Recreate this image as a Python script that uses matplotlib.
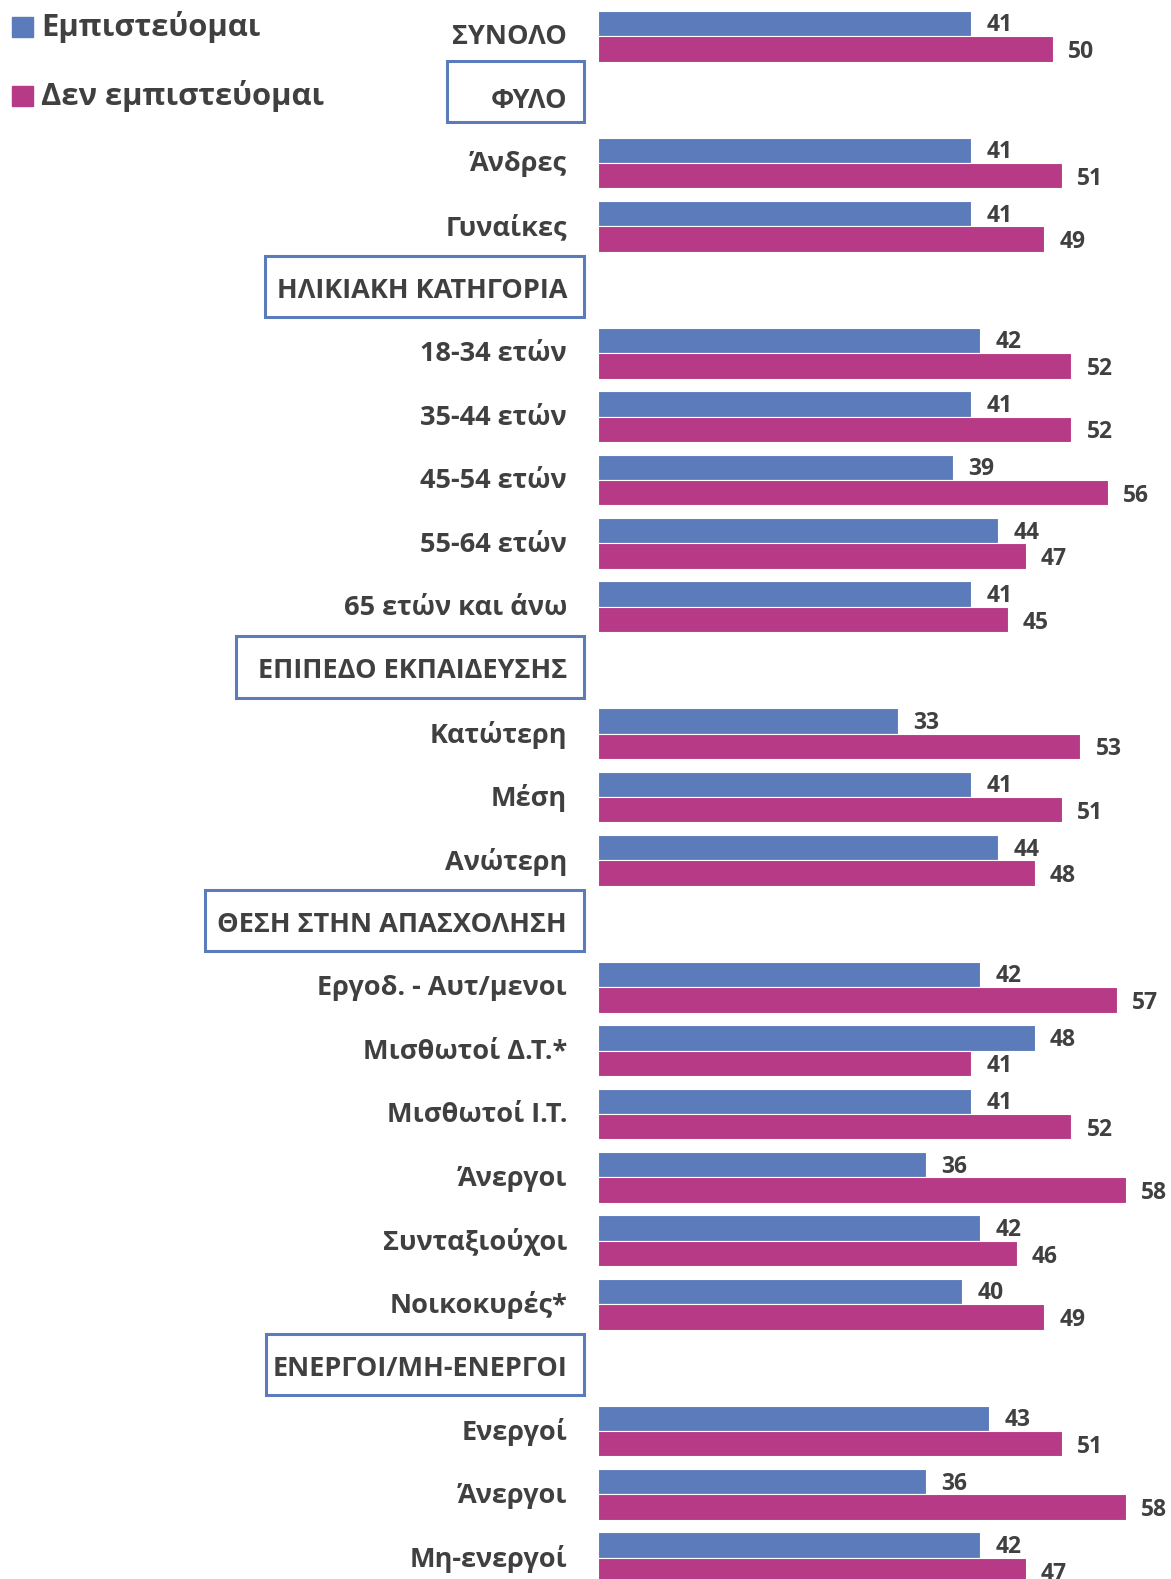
import matplotlib.pyplot as plt
from matplotlib.patches import Rectangle
import numpy as np

plt.rcParams['font.family'] = ['Open Sans', 'DejaVu Sans']

# rows top to bottom, section headers included
rows = ['ΣΥΝΟΛΟ', 'ΦΥΛΟ', 'Άνδρες', 'Γυναίκες', 'ΗΛΙΚΙΑΚΗ ΚΑΤΗΓΟΡΙΑ',
        '18-34 ετών', '35-44 ετών', '45-54 ετών', '55-64 ετών', '65 ετών και άνω',
        'ΕΠΙΠΕΔΟ ΕΚΠΑΙΔΕΥΣΗΣ', 'Κατώτερη', 'Μέση', 'Ανώτερη',
        'ΘΕΣΗ ΣΤΗΝ ΑΠΑΣΧΟΛΗΣΗ', 'Εργοδ. - Αυτ/μενοι', 'Μισθωτοί Δ.Τ.*', 'Μισθωτοί Ι.Τ.',
        'Άνεργοι', 'Συνταξιούχοι', 'Νοικοκυρές*',
        'ΕΝΕΡΓΟΙ/ΜΗ-ΕΝΕΡΓΟΙ', 'Ενεργοί', 'Άνεργοι', 'Μη-ενεργοί']
headers = ['ΦΥΛΟ', 'ΗΛΙΚΙΑΚΗ ΚΑΤΗΓΟΡΙΑ', 'ΕΠΙΠΕΔΟ ΕΚΠΑΙΔΕΥΣΗΣ',
           'ΘΕΣΗ ΣΤΗΝ ΑΠΑΣΧΟΛΗΣΗ', 'ΕΝΕΡΓΟΙ/ΜΗ-ΕΝΕΡΓΟΙ']
nan = np.nan
trust = [41, nan, 41, 41, nan, 42, 41, 39, 44, 41, nan, 33, 41, 44,
         nan, 42, 48, 41, 36, 42, 40, nan, 43, 36, 42]
distrust = [50, nan, 51, 49, nan, 52, 52, 56, 47, 45, nan, 53, 51, 48,
            nan, 57, 41, 52, 58, 46, 49, nan, 51, 58, 47]
series_names = ['Εμπιστεύομαι', 'Δεν εμπιστεύομαι']

BLUE = '#5B7BBA'
PINK = '#B73A86'
TXT = '#404040'

W, H = 1171, 1579
X0, PXU = 598, 9.1        # pixel of value 0, pixels per unit
Y0, PITCH = 36.2, 63.4    # pixel of first row centre, row pitch

fig = plt.figure(figsize=(W / 100, H / 100), dpi=100)
ax = fig.add_axes([0, 0, 1, 1])
ax.set_xlim(-X0 / PXU, (W - X0) / PXU)
ax.set_ylim((H - Y0) / PITCH, -Y0 / PITCH)
ax.axis('off')

def px(x):
    return (x - X0) / PXU

y = np.arange(len(rows))
t = np.array(trust, dtype=float)
d = np.array(distrust, dtype=float)
ax.barh(y - 0.2, t, height=0.4, color=BLUE, edgecolor='white', linewidth=0.8)
ax.barh(y + 0.2, d, height=0.4, color=PINK, edgecolor='white', linewidth=0.8)

for yi, v in zip(y, t):
    if not np.isnan(v):
        ax.annotate(f'{v:.0f}', (v, yi - 0.17), xytext=(11, 0), textcoords='offset points',
                    ha='left', va='center', fontsize=16.5, fontweight='bold', color=TXT)
for yi, v in zip(y, d):
    if not np.isnan(v):
        ax.annotate(f'{v:.0f}', (v, yi + 0.25), xytext=(11, 0), textcoords='offset points',
                    ha='left', va='center', fontsize=16.5, fontweight='bold', color=TXT)

# category labels and boxed section headers
box_left = {'ΦΥΛΟ': 447, 'ΗΛΙΚΙΑΚΗ ΚΑΤΗΓΟΡΙΑ': 265, 'ΕΠΙΠΕΔΟ ΕΚΠΑΙΔΕΥΣΗΣ': 236,
            'ΘΕΣΗ ΣΤΗΝ ΑΠΑΣΧΟΛΗΣΗ': 205, 'ΕΝΕΡΓΟΙ/ΜΗ-ΕΝΕΡΓΟΙ': 266}
box_shift = {'ΦΥΛΟ': -0.13}
for yi, name in zip(y, rows):
    ax.text(px(567), yi + 0.02, name, ha='right', va='center', fontsize=19.5,
            fontweight='bold', color=TXT)
    if name in headers:
        x1 = px(box_left[name])
        x2 = px(584)
        cy = yi + box_shift.get(name, -0.05)
        ax.add_patch(Rectangle((x1, cy - 0.485), x2 - x1, 0.97, fill=False,
                               edgecolor=BLUE, linewidth=2.2, clip_on=False))

# legend
for k, (name, col) in enumerate(zip(series_names, [BLUE, PINK])):
    cy = 27 + k * 69
    fig.patches.append(Rectangle((12 / W, 1 - (cy + 10) / H), 21 / W, 20 / H,
                                 transform=fig.transFigure, color=col))
    fig.text(41 / W, 1 - cy / H, name, ha='left', va='center', fontsize=22.3,
             fontweight='bold', color=TXT)

fig.savefig('out.png', dpi=100)
